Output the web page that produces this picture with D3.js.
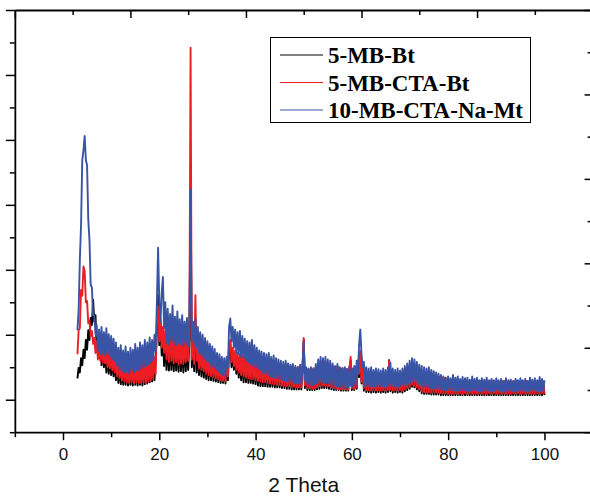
<!DOCTYPE html>
<html>
<head>
<meta charset="utf-8">
<script src="https://cdn.jsdelivr.net/npm/d3@7"></script>
<style>
body { margin: 0; background: #fff; }
</style>
</head>
<body>
<script>
var width = 590;
var height = 499;

// scan grid: 3 to 100 deg, 0.25 deg step
var angleStart = 3;
var angleStep = 0.25;

var seriesNames = ["5-MB-Bt", "5-MB-CTA-Bt", "10-MB-CTA-Na-Mt"];
var seriesColors = ["#000000", "#ee1d24", "#3a54a5"];

// intensities (a.u.), one row = 5 degrees
var mbBt = [
  33,49,42,64,53,77,64,92,77,107,92,126,115,154,120,130,77,100,64,88,
  53,80,50,78,42,70,40,68,38,66,36,64,30,56,26,54,24,53,23,52,
  23,53,22,52,23,53,22,52,23,54,22,53,23,55,22,54,24,56,25,57,
  27,58,28,60,30,62,107,161,84,120,68,98,52,94,46,92,45,96,46,90,
  44,92,45,88,43,92,44,88,42,90,44,86,46,92,300,50,85,44,123,42,
  77,38,76,36,74,34,72,32,69,30,68,30,66,29,64,28,62,27,60,26,
  58,26,56,25,58,30,76,88,50,72,46,68,40,66,34,64,30,64,27,62,
  27,60,26,60,26,62,25,58,24,58,22,57,21,56,21,55,21,56,20,54,
  20,54,20,55,19,53,19,54,19,52,18,52,18,53,17,50,17,51,16,50,
  16,49,16,50,16,48,16,50,92,18,48,15,47,15,46,15,47,15,49,16,
  54,17,56,18,56,18,57,18,55,17,54,16,51,15,50,15,51,15,48,14,
  48,14,48,14,47,14,48,60,15,47,15,49,17,58,35,72,25,55,14,46,
  12,36,12,37,11,36,12,37,11,35,12,36,11,36,12,37,11,36,12,61,
  13,36,11,35,12,36,11,35,12,36,11,38,13,40,15,42,17,45,20,46,
  19,43,16,40,13,37,10,36,9,35,9,34,9,35,8,33,8,33,8,32,
  8,31,7,30,7,29,7,30,7,28,7,29,7,27,7,28,7,27,7,28,
  7,27,7,28,7,26,7,27,7,28,7,26,7,27,7,28,7,26,7,27,
  7,27,7,28,7,26,7,27,7,28,7,26,7,27,7,28,7,26,7,27,
  7,27,7,28,7,26,7,27,7,28,7,26,7,27,7,28,7,26,7,27,
  7,27,7,28,7,26,7,27,7
];

var mbCtaBt = [
  70,107,110,169,160,205,198,150,152,118,122,98,106,86,95,72,90,62,85,60,
  84,57,80,56,74,50,72,48,70,45,68,42,66,36,62,33,60,30,58,28,
  60,27,56,26,58,27,55,25,58,27,56,26,60,25,58,27,60,26,58,28,
  62,30,64,32,66,40,123,144,90,126,80,112,72,108,62,104,58,118,60,100,
  56,106,58,98,54,104,56,96,55,100,58,94,60,100,542,62,92,55,161,60,
  84,48,80,46,76,44,74,40,72,38,70,36,68,35,66,33,64,32,62,30,
  60,29,58,28,60,36,82,92,58,80,52,76,46,72,42,70,38,68,36,66,
  34,64,33,62,32,86,32,62,30,60,29,58,28,60,27,57,27,58,26,56,
  25,55,25,56,24,54,23,55,23,53,22,52,22,54,21,50,21,52,20,50,
  20,49,19,50,19,48,19,50,95,22,48,18,47,18,46,17,48,18,50,19,
  56,21,60,22,58,22,60,22,57,21,55,19,52,18,50,17,52,17,49,16,
  48,16,49,16,47,16,50,66,18,48,17,50,20,61,40,75,27,58,18,48,
  15,40,15,41,14,39,15,42,14,38,15,40,14,39,15,41,14,40,15,61,
  16,40,14,38,15,40,14,39,15,40,14,42,16,44,18,47,20,50,23,52,
  22,48,19,45,16,42,13,40,12,39,12,38,12,39,11,37,12,36,11,36,
  11,35,10,34,10,33,10,32,9,30,10,31,9,29,10,30,9,28,10,29,
  9,28,10,30,9,27,10,29,9,28,10,27,9,29,10,28,9,27,10,28,
  9,27,10,28,9,29,10,27,9,28,10,27,9,28,10,29,9,27,10,28,
  9,28,10,27,9,29,10,28,9,27,10,28,9,29,10,27,9,28,10,27,
  9,28,10,27,9,29,10,28,9
];

var mbCtaNaMt = [
  107,138,215,269,369,384,406,369,361,277,246,177,173,130,130,100,115,75,108,70,
  112,72,104,68,110,70,101,66,98,63,94,60,88,52,80,46,84,44,76,42,
  82,43,74,40,80,44,77,42,86,46,80,45,88,48,84,50,92,52,88,55,
  96,57,92,60,100,75,150,234,150,120,165,189,110,150,88,140,85,132,90,145,
  86,128,84,136,88,124,85,130,83,120,86,126,82,118,323,90,120,85,125,80,
  112,72,104,68,100,63,95,60,90,58,86,52,82,50,78,47,72,44,70,40,
  66,38,64,36,66,50,112,125,90,112,80,108,72,104,70,106,66,98,64,94,
  60,90,58,88,55,92,52,84,50,80,48,76,46,74,42,72,40,70,38,72,
  36,66,35,68,34,64,33,62,32,60,30,58,30,60,28,56,28,54,27,55,
  26,52,26,50,25,54,25,52,89,30,50,24,48,23,50,22,48,24,55,25,
  62,26,66,27,64,26,66,26,62,25,60,23,56,22,52,21,55,20,50,20,
  48,19,50,18,47,19,50,22,48,20,52,22,60,40,85,108,70,50,58,20,
  50,21,48,20,50,21,46,20,48,21,47,20,45,21,48,20,46,21,50,22,
  57,21,48,20,46,21,48,20,45,21,48,22,52,23,56,25,60,27,64,28,
  62,27,58,25,54,23,52,21,50,20,48,19,50,18,46,18,44,17,42,17,
  40,16,38,16,36,15,34,15,36,15,33,14,38,14,34,14,36,14,32,14,
  35,14,33,14,34,13,31,14,36,14,32,13,34,14,30,13,33,14,31,13,
  34,14,30,13,32,14,30,13,33,14,30,13,32,13,29,13,33,14,30,13,
  31,13,29,13,32,14,30,13,33,14,30,13,32,14,29,13,34,14,31,13,
  33,14,30,13,35,14,32,13,30
];

var series = [mbBt, mbCtaBt, mbCtaNaMt];

var xTickValues = d3.range(-10, 111, 10);   // labels on multiples of 20
var yTickValues = d3.range(-50, 601, 50);   // unlabelled
var frameTicks = d3.range(0, 11, 1);        // top / right frame ticks

var xScale = d3.scaleLinear()
               .domain([-10, 110])
               .range([14.85, 592.6]);

var yScale = d3.scaleLinear()
               .domain([-50, 600])
               .range([432.2, 10]);

var topScale = d3.scaleLinear().domain([0, 10]).range(xScale.range());
var rightScale = d3.scaleLinear().domain([0, 10]).range(yScale.range());

var svg = d3.select("body")
            .append("svg")
            .attr("width", width)
            .attr("height", height);

// traces: black first, blue last (on top)
var line = d3.line()
             .x(function(d, i){ return xScale(angleStart + i * angleStep); })
             .y(function(d){ return yScale(d); });

svg.append("g")
   .selectAll("path")
   .data(series)
   .enter()
   .append("path")
   .attr("d", line)
   .attr("fill", "none")
   .attr("stroke", function(d, i){ return seriesColors[i]; })
   .attr("stroke-width", 1.9)
   .attr("stroke-linejoin", "round");

// axes
var xAxis = d3.axisBottom(xScale)
              .tickValues(xTickValues)
              .tickSize(8)
              .tickSizeOuter(0)
              .tickPadding(8)
              .tickFormat(function(d){
                return (d % 20 === 0 && d >= 0 && d <= 100) ? d : "";
              });

var yAxis = d3.axisLeft(yScale)
              .tickValues(yTickValues)
              .tickSize(9)
              .tickSizeOuter(0)
              .tickFormat("");

var topAxis = d3.axisBottom(topScale)
                .tickValues(frameTicks)
                .tickSize(8)
                .tickSizeOuter(0)
                .tickFormat("");

var rightAxis = d3.axisLeft(rightScale)
                  .tickValues(frameTicks)
                  .tickSize(8)
                  .tickSizeOuter(0)
                  .tickFormat("");

var gx = svg.append("g")
            .attr("transform", "translate(0," + yScale(-50) + ")")
            .call(xAxis);
gx.selectAll(".tick line")
  .attr("y2", function(d){ return d % 20 === 0 ? 8 : 5; });

var gy = svg.append("g")
            .attr("transform", "translate(" + xScale(-10) + ",0)")
            .call(yAxis);
gy.selectAll(".tick line")
  .attr("x2", function(d){ return d % 100 === 0 ? -9 : -5; });

var gt = svg.append("g")
            .attr("transform", "translate(0," + yScale(600) + ")")
            .call(topAxis);
gt.selectAll(".tick line")
  .attr("y2", function(d){ return d % 2 === 0 ? 8 : 5; });

var gr = svg.append("g")
            .attr("transform", "translate(" + xScale(110) + ",0)")
            .call(rightAxis);
gr.selectAll(".tick line")
  .attr("x2", function(d){ return d % 2 === 0 ? -8 : -5; });

svg.selectAll(".domain")
   .attr("stroke", "#000")
   .attr("stroke-width", 1.8);
svg.selectAll(".tick line")
   .attr("stroke", "#000")
   .attr("stroke-width", 1.5);

gx.selectAll(".tick text")
  .attr("font-family", "'Liberation Sans', Arial, sans-serif")
  .attr("font-size", "17px")
  .attr("fill", "#111");

svg.append("text")
   .attr("x", (xScale(-10) + xScale(110)) / 2)
   .attr("y", 492)
   .attr("text-anchor", "middle")
   .attr("font-family", "'Liberation Sans', Arial, sans-serif")
   .attr("font-size", "21px")
   .attr("fill", "#111")
   .text("2 Theta");

// legend
var legend = svg.append("g");

legend.append("rect")
      .attr("x", 270.5)
      .attr("y", 37.5)
      .attr("width", 260)
      .attr("height", 85)
      .attr("fill", "#fff")
      .attr("stroke", "#000")
      .attr("stroke-width", 1);

var rows = legend.selectAll("g.row")
                 .data(seriesNames)
                 .enter()
                 .append("g")
                 .attr("class", "row")
                 .attr("transform", function(d, i){
                   return "translate(0," + (63 + i * 27.5) + ")";
                 });

rows.append("line")
    .attr("x1", 280)
    .attr("x2", 323)
    .attr("y1", -8)
    .attr("y2", -8)
    .attr("stroke", function(d, i){ return seriesColors[i]; })
    .attr("stroke-width", 1);

rows.append("text")
    .attr("x", 328)
    .attr("y", 0)
    .attr("font-family", "'Liberation Serif', 'Times New Roman', serif")
    .attr("font-weight", "bold")
    .attr("font-size", "23px")
    .attr("fill", "#000")
    .text(function(d){ return d; });
</script>
</body>
</html>
